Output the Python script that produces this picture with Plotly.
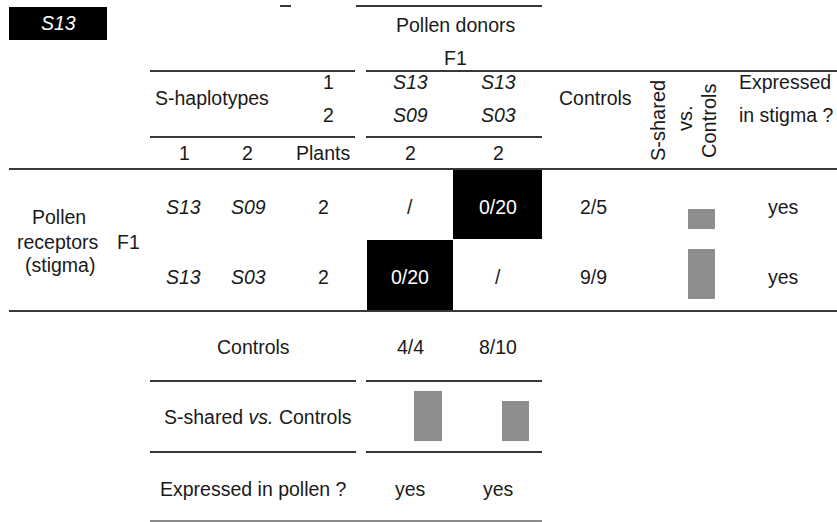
import plotly.graph_objects as go

# ---------------- data ----------------
receptor_hap1 = ["S13", "S13"]
receptor_hap2 = ["S09", "S03"]
receptor_plants = [2, 2]
donor_hap1 = ["S13", "S13"]
donor_hap2 = ["S09", "S03"]
donor_plants = [2, 2]
cross_results = [["/", "0/20"], ["0/20", "/"]]   # rows: receptors, cols: donors
incompatible = [[False, True], [True, False]]
receptor_controls = ["2/5", "9/9"]
donor_controls = ["4/4", "8/10"]
expressed_stigma = ["yes", "yes"]
expressed_pollen = ["yes", "yes"]
title_hap = "S13"

def frac(s):
    a, b = s.split("/")
    return float(a) / float(b)

# ---------------- layout constants (pixel space) ----------------
W, H = 837, 522
FONT = "Liberation Sans, Arial, sans-serif"
FS = 19.5
LINE = "#383838"
GRAY = "#8e8e8e"
BAR_SCALE = 50

col_donor = [410, 498]
row_y = [207, 277]
row_top = [170, 240]
row_bot = [240, 311]

fig = go.Figure()

def txt(x, y, s, color="#1a1a1a", size=FS, angle=0, xanchor="center"):
    fig.add_annotation(x=x, y=y, text=s, showarrow=False, xref="x", yref="y",
                       xanchor=xanchor, yanchor="middle", textangle=angle,
                       font=dict(family=FONT, size=size, color=color))

def hline(x0, x1, y, color=LINE, width=2):
    fig.add_shape(type="line", x0=x0, x1=x1, y0=y, y1=y, xref="x", yref="y",
                  line=dict(color=color, width=width))

def box(x0, x1, y0, y1, color="black"):
    fig.add_shape(type="rect", x0=x0, x1=x1, y0=y0, y1=y1, xref="x", yref="y",
                  fillcolor=color, line=dict(width=0), layer="below")

# title box
box(9, 107, 7, 40)
txt(58, 23, f"<i>{title_hap}</i>", color="white")

# lines
hline(280, 291, 6)
hline(356, 542, 6)
hline(150, 355, 71); hline(366, 837, 71)
hline(150, 355, 137); hline(366, 542, 137)
hline(9, 837, 169)
hline(9, 837, 311)
hline(150, 356, 381); hline(366, 542, 381)
hline(150, 356, 452); hline(366, 542, 452)
hline(150, 542, 521, color="#8a8a8a", width=2)

# header
txt(455, 25, "Pollen donors")
txt(455, 58, "F1")
txt(212, 98, "S-haplotypes")
txt(328, 82, "1")
txt(328, 115, "2")
for j in range(2):
    txt(col_donor[j], 82, f"<i>{donor_hap1[j]}</i>")
    txt(col_donor[j], 115, f"<i>{donor_hap2[j]}</i>")
    txt(col_donor[j], 153, str(donor_plants[j]))
txt(184, 153, "1")
txt(247, 153, "2")
txt(323, 153, "Plants")
txt(595, 98, "Controls")
txt(658, 121, "S-shared", angle=-90, size=20)
txt(685, 118, "vs.", angle=-90, size=20)
txt(709, 121, "Controls", angle=-90, size=20)
txt(737, 82, "Expressed", xanchor="left")
txt(737, 115, "in stigma ?", xanchor="left")

# receptor block
txt(59, 217, "Pollen")
txt(58, 242, "receptors")
txt(60, 265, "(stigma)")
txt(128, 242, "F1")

cw = [86, 89]
cx0 = [367, 453]
for i in range(2):
    y = row_y[i]
    txt(183, y, f"<i>{receptor_hap1[i]}</i>")
    txt(248, y, f"<i>{receptor_hap2[i]}</i>")
    txt(323, y, str(receptor_plants[i]))
    for j in range(2):
        if incompatible[i][j]:
            box(cx0[j], cx0[j] + cw[j], row_top[i], row_bot[i] - 1)
            txt(col_donor[j], y, cross_results[i][j], color="white")
        else:
            txt(col_donor[j], y, cross_results[i][j])
    txt(593, y, receptor_controls[i])
    txt(783, y, expressed_stigma[i])

# receptor control bars
fig.add_trace(go.Bar(
    x=[701.5, 701.5],
    y=[-frac(c) * BAR_SCALE for c in receptor_controls],
    base=[229, 299], width=27,
    marker=dict(color=GRAY, line=dict(width=0)),
    hoverinfo="skip", showlegend=False))

# donor block
txt(253, 347, "Controls")
txt(258, 417, "S-shared <i>vs.</i> Controls")
txt(253, 489, "Expressed in pollen ?")
for j in range(2):
    txt(col_donor[j], 347, donor_controls[j])
    txt(col_donor[j], 489, expressed_pollen[j])

fig.add_trace(go.Bar(
    x=[428, 515.5],
    y=[-frac(c) * BAR_SCALE for c in donor_controls],
    base=[441, 441], width=27.5,
    marker=dict(color=GRAY, line=dict(width=0)),
    hoverinfo="skip", showlegend=False))

fig.update_layout(
    width=W, height=H,
    margin=dict(l=0, r=0, t=0, b=0),
    paper_bgcolor="white", plot_bgcolor="white",
    xaxis=dict(range=[0, W], visible=False, fixedrange=True),
    yaxis=dict(range=[H, 0], visible=False, fixedrange=True),
    barmode="overlay", bargap=0, hovermode=False,
)

fig.write_html("out.html", config={"displayModeBar": False},
               post_script="document.body.style.margin='0px';document.body.style.overflow='hidden';")
